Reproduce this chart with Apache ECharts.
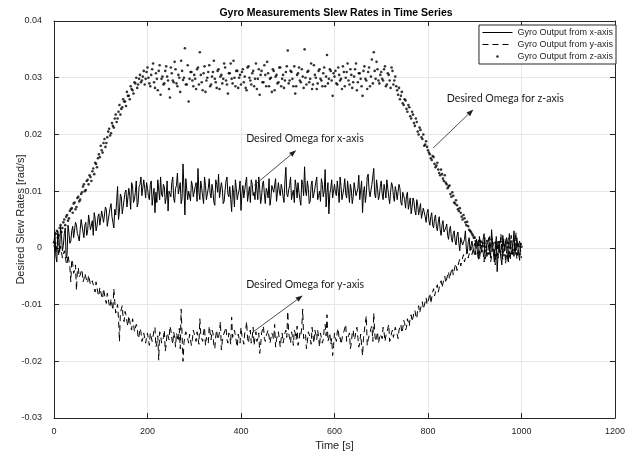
<!DOCTYPE html>
<html>
<head>
<meta charset="utf-8">
<script src="https://cdn.jsdelivr.net/npm/echarts@6/dist/echarts.min.js"></script>
<style>
html,body{margin:0;padding:0;background:#fff;}
#chart{width:628px;height:456px;}
</style>
</head>
<body>
<div id="chart"></div>
<script>
// Sample times: set A at 0,4,8,...,1000 s ; set B at 2,6,10,...,998 s
const tStartA = 0, tStartB = 2, tStep = 4;

// Gyro output, x-axis [rad/s]
const xOmegaA = [
  0.0010,-0.0015,0.0030,-0.0008,0.0022,0.0004,0.0035,-0.0012,0.0026,0.0012,0.0038,0.0015,0.0040,0.0020,0.0032,0.0048,0.0018,0.0045,0.0030,0.0055,0.0035,0.0022,0.0052,0.0038,0.0060,
  0.0042,0.0062,0.0048,0.0068,0.0040,0.0070,0.0055,0.0035,0.0058,0.0108,0.0065,0.0090,0.0062,0.0098,0.0072,0.0105,0.0068,0.0110,0.0085,0.0118,0.0080,0.0112,0.0092,0.0120,0.0088,
  0.0105,0.0085,0.0118,0.0092,0.0062,0.0080,0.0102,0.0125,0.0090,0.0108,0.0088,0.0065,0.0100,0.0115,0.0087,0.0105,0.0132,0.0095,0.0078,0.0148,0.0058,0.0120,0.0100,0.0083,0.0110,
  0.0092,0.0115,0.0140,0.0085,0.0105,0.0078,0.0110,0.0095,0.0122,0.0088,0.0100,0.0075,0.0112,0.0130,0.0090,0.0105,0.0082,0.0118,0.0095,0.0108,0.0064,0.0098,0.0120,0.0085,0.0102,
  0.0066,0.0110,0.0090,0.0125,0.0095,0.0080,0.0112,0.0098,0.0120,0.0085,0.0105,0.0090,0.0118,0.0078,0.0100,0.0122,0.0088,0.0108,0.0095,0.0082,0.0115,0.0092,0.0105,0.0080,0.0142,
  0.0090,0.0110,0.0085,0.0102,0.0120,0.0088,0.0098,0.0075,0.0112,0.0143,0.0092,0.0105,0.0082,0.0118,0.0095,0.0108,0.0085,0.0100,0.0122,0.0090,0.0138,0.0098,0.0060,0.0105,0.0088,
  0.0112,0.0092,0.0100,0.0125,0.0085,0.0105,0.0095,0.0118,0.0080,0.0102,0.0090,0.0115,0.0098,0.0128,0.0086,0.0062,0.0108,0.0095,0.0130,0.0090,0.0112,0.0140,0.0088,0.0105,0.0092,
  0.0118,0.0085,0.0102,0.0120,0.0090,0.0098,0.0110,0.0082,0.0100,0.0088,0.0105,0.0075,0.0092,0.0070,0.0098,0.0078,0.0060,0.0088,0.0065,0.0085,0.0058,0.0078,0.0050,0.0072,0.0045,
  0.0068,0.0040,0.0062,0.0035,0.0058,0.0030,0.0055,0.0022,0.0048,0.0025,0.0042,0.0015,0.0038,0.0010,0.0030,0.0005,0.0028,-0.0005,0.0020,0.0002,0.0030,-0.0010,0.0018,-0.0008,0.0012,
  -0.0012,0.0015,-0.0020,0.0008,-0.0005,0.0025,-0.0015,0.0010,-0.0008,0.0032,-0.0010,0.0005,-0.0042,0.0012,-0.0018,0.0022,-0.0006,0.0018,-0.0025,0.0008,-0.0012,0.0030,-0.0015,0.0020,-0.0022,0.0005
];
const xOmegaB = [
  0.0028,-0.0025,0.0015,0.0038,-0.0005,0.0025,-0.0018,0.0040,0.0008,0.0030,0.0018,0.0045,0.0025,0.0012,0.0050,0.0028,0.0040,0.0022,0.0058,0.0032,0.0048,0.0062,0.0030,0.0055,0.0040,
  0.0065,0.0045,0.0072,0.0038,0.0060,0.0078,0.0045,0.0068,0.0082,0.0050,0.0095,0.0060,0.0085,0.0102,0.0070,0.0092,0.0115,0.0080,0.0098,0.0072,0.0108,0.0125,0.0090,0.0105,0.0115,
  0.0092,0.0112,0.0075,0.0105,0.0098,0.0120,0.0085,0.0095,0.0112,0.0078,0.0118,0.0100,0.0090,0.0125,0.0080,0.0110,0.0095,0.0115,0.0088,0.0105,0.0122,0.0085,0.0098,0.0118,0.0090,
  0.0108,0.0082,0.0098,0.0118,0.0090,0.0125,0.0085,0.0105,0.0095,0.0112,0.0080,0.0120,0.0098,0.0088,0.0115,0.0078,0.0102,0.0125,0.0090,0.0085,0.0110,0.0072,0.0105,0.0095,0.0118,
  0.0095,0.0088,0.0115,0.0082,0.0108,0.0120,0.0092,0.0085,0.0102,0.0125,0.0078,0.0112,0.0095,0.0105,0.0088,0.0075,0.0110,0.0098,0.0122,0.0085,0.0100,0.0112,0.0090,0.0118,0.0095,
  0.0102,0.0125,0.0095,0.0080,0.0108,0.0115,0.0085,0.0120,0.0092,0.0100,0.0118,0.0078,0.0110,0.0088,0.0105,0.0125,0.0092,0.0082,0.0112,0.0100,0.0072,0.0115,0.0095,0.0120,0.0085,
  0.0098,0.0118,0.0080,0.0108,0.0095,0.0122,0.0088,0.0100,0.0112,0.0078,0.0115,0.0092,0.0105,0.0085,0.0118,0.0098,0.0080,0.0125,0.0102,0.0088,0.0110,0.0095,0.0120,0.0085,0.0108,
  0.0095,0.0112,0.0088,0.0105,0.0078,0.0115,0.0092,0.0108,0.0085,0.0112,0.0080,0.0098,0.0085,0.0092,0.0068,0.0088,0.0072,0.0082,0.0058,0.0075,0.0068,0.0052,0.0070,0.0055,0.0062,
  0.0048,0.0055,0.0040,0.0052,0.0038,0.0045,0.0032,0.0040,0.0028,0.0035,0.0022,0.0032,0.0018,0.0025,0.0012,0.0022,0.0008,0.0018,0.0005,0.0015,-0.0002,0.0010,-0.0005,0.0012,-0.0008,
  0.0010,-0.0012,0.0020,-0.0008,0.0015,-0.0020,0.0005,0.0018,-0.0015,0.0008,-0.0025,0.0015,-0.0008,0.0010,-0.0030,0.0005,0.0012,-0.0018,0.0025,-0.0005,0.0008,-0.0012,0.0018,-0.0010,0.0008
];

// Gyro output, y-axis [rad/s]
const yOmegaA = [
  0.0005,-0.0010,0.0012,-0.0015,0.0002,-0.0020,-0.0008,-0.0030,-0.0015,-0.0060,-0.0028,-0.0040,-0.0075,-0.0035,-0.0048,-0.0038,-0.0055,-0.0042,-0.0062,-0.0050,-0.0068,-0.0055,-0.0078,-0.0062,-0.0085,
  -0.0070,-0.0090,-0.0075,-0.0098,-0.0082,-0.0105,-0.0088,-0.0072,-0.0115,-0.0100,-0.0165,-0.0108,-0.0125,-0.0112,-0.0130,-0.0120,-0.0140,-0.0125,-0.0148,-0.0135,-0.0160,-0.0142,-0.0165,-0.0150,-0.0168,
  -0.0150,-0.0172,-0.0148,-0.0162,-0.0140,-0.0168,-0.0198,-0.0152,-0.0165,-0.0145,-0.0170,-0.0155,-0.0138,-0.0160,-0.0148,-0.0175,-0.0152,-0.0142,-0.0108,-0.0200,-0.0155,-0.0145,-0.0168,-0.0150,-0.0162,
  -0.0142,-0.0165,-0.0150,-0.0125,-0.0160,-0.0148,-0.0172,-0.0155,-0.0138,-0.0162,-0.0150,-0.0178,-0.0145,-0.0158,-0.0130,-0.0165,-0.0152,-0.0140,-0.0168,-0.0155,-0.0122,-0.0160,-0.0148,-0.0175,-0.0152,
  -0.0140,-0.0162,-0.0150,-0.0130,-0.0168,-0.0145,-0.0158,-0.0172,-0.0148,-0.0160,-0.0186,-0.0150,-0.0138,-0.0165,-0.0152,-0.0142,-0.0170,-0.0155,-0.0135,-0.0162,-0.0148,-0.0175,-0.0150,-0.0160,-0.0145,
  -0.0112,-0.0160,-0.0148,-0.0172,-0.0150,-0.0138,-0.0165,-0.0155,-0.0108,-0.0162,-0.0178,-0.0148,-0.0158,-0.0140,-0.0168,-0.0152,-0.0145,-0.0175,-0.0150,-0.0162,-0.0135,-0.0118,-0.0158,-0.0170,-0.0190,
  -0.0150,-0.0165,-0.0142,-0.0158,-0.0172,-0.0148,-0.0135,-0.0162,-0.0150,-0.0168,-0.0145,-0.0158,-0.0140,-0.0175,-0.0152,-0.0190,-0.0145,-0.0120,-0.0162,-0.0150,-0.0138,-0.0115,-0.0165,-0.0148,-0.0170,
  -0.0152,-0.0140,-0.0165,-0.0150,-0.0135,-0.0160,-0.0145,-0.0155,-0.0138,-0.0160,-0.0140,-0.0150,-0.0128,-0.0145,-0.0125,-0.0138,-0.0118,-0.0132,-0.0110,-0.0125,-0.0102,-0.0118,-0.0095,-0.0110,-0.0088,
  -0.0100,-0.0080,-0.0095,-0.0072,-0.0088,-0.0065,-0.0080,-0.0058,-0.0072,-0.0050,-0.0065,-0.0042,-0.0058,-0.0035,-0.0050,-0.0028,-0.0042,-0.0020,-0.0035,-0.0012,-0.0028,-0.0005,-0.0020,0.0002,-0.0012,
  0.0008,-0.0010,0.0015,-0.0018,0.0005,-0.0025,0.0012,-0.0008,0.0020,-0.0015,0.0002,-0.0030,0.0010,-0.0012,0.0025,-0.0020,0.0005,-0.0010,0.0018,-0.0022,0.0008,-0.0015,0.0028,-0.0008,0.0012,-0.0018
];
const yOmegaB = [
  -0.0005,0.0008,-0.0012,0.0003,-0.0018,-0.0005,-0.0025,-0.0012,-0.0035,-0.0020,-0.0045,-0.0030,-0.0040,-0.0052,-0.0042,-0.0060,-0.0045,-0.0058,-0.0048,-0.0065,-0.0058,-0.0072,-0.0060,-0.0080,-0.0070,
  -0.0085,-0.0072,-0.0092,-0.0080,-0.0100,-0.0090,-0.0110,-0.0095,-0.0108,-0.0125,-0.0115,-0.0102,-0.0130,-0.0118,-0.0138,-0.0128,-0.0145,-0.0132,-0.0150,-0.0140,-0.0155,-0.0148,-0.0160,-0.0152,-0.0158,
  -0.0162,-0.0150,-0.0165,-0.0145,-0.0175,-0.0155,-0.0148,-0.0168,-0.0158,-0.0182,-0.0150,-0.0162,-0.0145,-0.0170,-0.0158,-0.0150,-0.0165,-0.0178,-0.0155,-0.0168,-0.0148,-0.0160,-0.0152,-0.0172,-0.0145,
  -0.0158,-0.0148,-0.0170,-0.0152,-0.0165,-0.0140,-0.0158,-0.0168,-0.0150,-0.0145,-0.0172,-0.0155,-0.0162,-0.0148,-0.0180,-0.0155,-0.0145,-0.0162,-0.0150,-0.0170,-0.0158,-0.0145,-0.0165,-0.0152,-0.0168,
  -0.0155,-0.0170,-0.0145,-0.0160,-0.0152,-0.0168,-0.0140,-0.0158,-0.0165,-0.0150,-0.0172,-0.0148,-0.0160,-0.0155,-0.0145,-0.0168,-0.0150,-0.0162,-0.0175,-0.0152,-0.0145,-0.0160,-0.0168,-0.0150,-0.0158,
  -0.0150,-0.0168,-0.0155,-0.0145,-0.0162,-0.0172,-0.0150,-0.0140,-0.0160,-0.0152,-0.0165,-0.0148,-0.0170,-0.0155,-0.0145,-0.0162,-0.0158,-0.0150,-0.0168,-0.0142,-0.0155,-0.0165,-0.0150,-0.0160,-0.0172,
  -0.0158,-0.0148,-0.0162,-0.0170,-0.0152,-0.0145,-0.0165,-0.0155,-0.0178,-0.0150,-0.0162,-0.0145,-0.0158,-0.0168,-0.0150,-0.0160,-0.0148,-0.0172,-0.0155,-0.0142,-0.0165,-0.0150,-0.0158,-0.0168,-0.0152,
  -0.0160,-0.0148,-0.0155,-0.0142,-0.0165,-0.0150,-0.0158,-0.0140,-0.0152,-0.0145,-0.0135,-0.0142,-0.0132,-0.0140,-0.0128,-0.0122,-0.0130,-0.0115,-0.0120,-0.0108,-0.0115,-0.0100,-0.0108,-0.0095,-0.0100,
  -0.0088,-0.0098,-0.0078,-0.0085,-0.0070,-0.0078,-0.0062,-0.0070,-0.0055,-0.0062,-0.0048,-0.0055,-0.0040,-0.0048,-0.0032,-0.0040,-0.0025,-0.0032,-0.0018,-0.0025,-0.0010,-0.0018,-0.0004,-0.0012,0.0002,
  -0.0012,0.0010,-0.0020,0.0005,-0.0008,0.0018,-0.0015,0.0008,-0.0025,0.0012,-0.0005,0.0020,-0.0018,0.0003,-0.0010,0.0015,-0.0028,0.0008,-0.0012,0.0022,-0.0006,0.0010,-0.0020,0.0005,-0.0008
];

// Gyro output, z-axis [rad/s]
const zOmegaA = [
  0.0010,0.0025,0.0018,0.0035,0.0028,0.0045,0.0040,0.0058,0.0052,0.0068,0.0062,0.0080,0.0072,0.0090,0.0085,0.0098,0.0112,0.0102,0.0120,0.0128,0.0118,0.0140,0.0150,0.0142,0.0165,
  0.0180,0.0168,0.0192,0.0185,0.0205,0.0198,0.0220,0.0212,0.0235,0.0228,0.0252,0.0245,0.0262,0.0258,0.0275,0.0268,0.0285,0.0278,0.0292,0.0300,0.0288,0.0305,0.0295,0.0312,0.0298,
  0.0318,0.0290,0.0305,0.0325,0.0282,0.0298,0.0312,0.0270,0.0302,0.0290,0.0320,0.0295,0.0265,0.0308,0.0292,0.0315,0.0285,0.0300,0.0330,0.0296,0.0352,0.0288,0.0258,0.0310,0.0295,
  0.0305,0.0280,0.0318,0.0345,0.0292,0.0308,0.0275,0.0300,0.0322,0.0288,0.0310,0.0298,0.0282,0.0315,0.0302,0.0290,0.0325,0.0295,0.0272,0.0308,0.0298,0.0330,0.0285,0.0312,0.0300,
  0.0288,0.0315,0.0302,0.0278,0.0320,0.0295,0.0308,0.0285,0.0325,0.0298,0.0270,0.0312,0.0292,0.0305,0.0328,0.0285,0.0300,0.0315,0.0278,0.0305,0.0292,0.0318,0.0298,0.0282,0.0310,
  0.0348,0.0295,0.0310,0.0285,0.0272,0.0305,0.0318,0.0292,0.0302,0.0350,0.0288,0.0312,0.0298,0.0280,0.0322,0.0300,0.0290,0.0315,0.0295,0.0308,0.0285,0.0340,0.0298,0.0312,0.0268,
  0.0302,0.0290,0.0318,0.0295,0.0280,0.0310,0.0300,0.0325,0.0288,0.0305,0.0292,0.0315,0.0278,0.0308,0.0298,0.0268,0.0320,0.0295,0.0310,0.0285,0.0332,0.0345,0.0298,0.0315,0.0290,
  0.0310,0.0295,0.0320,0.0288,0.0305,0.0282,0.0312,0.0295,0.0285,0.0270,0.0262,0.0275,0.0252,0.0260,0.0240,0.0248,0.0228,0.0235,0.0215,0.0222,0.0200,0.0208,0.0192,0.0180,0.0188,
  0.0172,0.0165,0.0155,0.0160,0.0142,0.0150,0.0132,0.0138,0.0122,0.0128,0.0112,0.0108,0.0095,0.0098,0.0080,0.0084,0.0068,0.0070,0.0055,0.0058,0.0045,0.0046,0.0032,0.0028,0.0022,
  0.0018,0.0010,0.0005,0.0012,-0.0005,0.0008,0.0002,-0.0010,0.0006,0.0015,-0.0004,0.0009,-0.0012,0.0003,0.0011,-0.0007,0.0004,-0.0015,0.0008,0.0000,-0.0009,0.0013,-0.0003,0.0006,-0.0011,0.0002
];
const zOmegaB = [
  0.0008,0.0030,0.0022,0.0040,0.0035,0.0050,0.0055,0.0048,0.0065,0.0070,0.0078,0.0068,0.0088,0.0082,0.0095,0.0108,0.0100,0.0118,0.0112,0.0125,0.0135,0.0130,0.0148,0.0158,0.0160,
  0.0172,0.0185,0.0178,0.0195,0.0210,0.0202,0.0215,0.0228,0.0222,0.0240,0.0235,0.0248,0.0258,0.0250,0.0268,0.0262,0.0280,0.0272,0.0290,0.0282,0.0298,0.0292,0.0302,0.0288,0.0310,
  0.0300,0.0285,0.0315,0.0292,0.0308,0.0278,0.0322,0.0298,0.0288,0.0312,0.0302,0.0280,0.0318,0.0295,0.0328,0.0290,0.0305,0.0275,0.0312,0.0300,0.0288,0.0322,0.0298,0.0310,0.0285,
  0.0298,0.0315,0.0288,0.0305,0.0278,0.0320,0.0295,0.0310,0.0285,0.0302,0.0330,0.0292,0.0312,0.0280,0.0305,0.0298,0.0318,0.0288,0.0308,0.0325,0.0290,0.0300,0.0312,0.0282,0.0305,
  0.0310,0.0292,0.0282,0.0318,0.0300,0.0288,0.0312,0.0298,0.0280,0.0315,0.0305,0.0292,0.0322,0.0285,0.0308,0.0298,0.0275,0.0312,0.0302,0.0290,0.0318,0.0285,0.0305,0.0295,0.0320,
  0.0290,0.0312,0.0298,0.0320,0.0285,0.0308,0.0295,0.0315,0.0282,0.0300,0.0310,0.0292,0.0325,0.0288,0.0305,0.0280,0.0312,0.0298,0.0285,0.0318,0.0302,0.0290,0.0315,0.0295,0.0308,
  0.0312,0.0288,0.0305,0.0298,0.0320,0.0285,0.0310,0.0295,0.0315,0.0282,0.0302,0.0325,0.0292,0.0308,0.0285,0.0312,0.0298,0.0280,0.0318,0.0302,0.0290,0.0312,0.0328,0.0295,0.0305,
  0.0298,0.0315,0.0285,0.0308,0.0295,0.0318,0.0288,0.0302,0.0278,0.0282,0.0268,0.0255,0.0262,0.0245,0.0252,0.0232,0.0240,0.0220,0.0228,0.0205,0.0212,0.0195,0.0200,0.0182,0.0178,
  0.0168,0.0158,0.0162,0.0148,0.0145,0.0138,0.0128,0.0130,0.0118,0.0115,0.0105,0.0110,0.0090,0.0092,0.0078,0.0075,0.0065,0.0062,0.0050,0.0052,0.0040,0.0038,0.0030,0.0025,0.0018,
  0.0012,0.0005,-0.0008,0.0010,0.0003,-0.0005,0.0012,-0.0010,0.0004,0.0008,-0.0012,0.0002,0.0010,-0.0006,0.0005,-0.0013,0.0009,0.0001,-0.0008,0.0011,-0.0004,0.0006,-0.0010,0.0003,0.0007
];

const seriesNames = ['Gyro Output from x-axis', 'Gyro Output from y-axis', 'Gyro Output from z-axis'];
const xTicks = {min: 0, max: 1200, interval: 200};
const yTicks = {min: -0.03, max: 0.04, interval: 0.01};

// Annotations (text anchor and arrow in data coordinates: [time, rate])
const notes = [
  {text: 'Desired Omega for x-axis', at: [411, 0.0193], from: [428, 0.0110], to: [518, 0.0172]},
  {text: 'Desired Omega for y-axis', at: [411, -0.0064], from: [428, -0.0147], to: [532, -0.0084]},
  {text: 'Desired Omega for z-axis', at: [840, 0.0264], from: [811, 0.0176], to: [897, 0.0244]}
];

// merge the two interleaved sample sets into [time, value] pairs ordered by time
function samples(a, b) {
  const pts = a.map((v, i) => [tStartA + i * tStep, v])
    .concat(b.map((v, i) => [tStartB + i * tStep, v]));
  return pts.sort((p, q) => p[0] - q[0]);
}

const FONT = 'Liberation Sans, Arial, Helvetica, sans-serif';
const AX = '#262626';

const chart = echarts.init(document.getElementById('chart'), null, {renderer: 'canvas'});

const baseX = {
  type: 'value', min: xTicks.min, max: xTicks.max, interval: xTicks.interval,
  axisLine: {onZero: false, lineStyle: {color: AX, width: 1}},
  axisTick: {inside: true, length: 5, lineStyle: {color: AX, width: 1}}
};
const baseY = {
  type: 'value', min: yTicks.min, max: yTicks.max, interval: yTicks.interval,
  axisLine: {onZero: false, lineStyle: {color: AX, width: 1}},
  axisTick: {inside: true, length: 5, lineStyle: {color: AX, width: 1}}
};

const option = {
  animation: false,
  backgroundColor: '#fff',
  title: {
    text: 'Gyro Measurements Slew Rates in Time Series',
    left: 336, top: 8, padding: 0, textAlign: 'center',
    textStyle: {fontFamily: FONT, fontSize: 10.5, fontWeight: 'bold', color: '#000'}
  },
  grid: {left: 54, right: 9.5, top: 21, bottom: 37, containLabel: false},
  legend: {
    orient: 'vertical', right: 12, top: 25,
    data: [
      {name: seriesNames[0], itemStyle: {opacity: 0}},
      {name: seriesNames[1], itemStyle: {opacity: 0}},
      {name: seriesNames[2]}
    ],
    itemWidth: 30, itemHeight: 2.6, itemGap: 0,
    padding: [1.5, 3, 1.5, 3],
    lineStyle: {width: 1},
    backgroundColor: '#fff', borderColor: AX, borderWidth: 1, borderRadius: 0,
    textStyle: {fontFamily: FONT, fontSize: 9, color: AX, lineHeight: 12},
    selectedMode: false
  },
  xAxis: [
    Object.assign({}, baseX, {
      position: 'bottom',
      name: 'Time [s]', nameLocation: 'middle', nameGap: 22, nameMoveOverlap: false,
      nameTextStyle: {fontFamily: FONT, fontSize: 11, color: AX},
      axisLabel: {fontFamily: FONT, fontSize: 9, color: AX, margin: 9,
        formatter: v => String(v)},
      splitLine: {show: true, lineStyle: {color: '#e6e6e6', width: 1}}
    }),
    Object.assign({}, baseX, {
      position: 'top', axisLabel: {show: false}, splitLine: {show: false}
    })
  ],
  yAxis: [
    Object.assign({}, baseY, {
      position: 'left',
      name: 'Desired Slew Rates [rad/s]', nameLocation: 'middle', nameGap: 28, nameMoveOverlap: false,
      nameTextStyle: {fontFamily: FONT, fontSize: 11, color: AX},
      axisLabel: {fontFamily: FONT, fontSize: 9, color: AX, margin: 12,
        formatter: v => String(parseFloat(v.toFixed(2)))},
      splitLine: {show: true, lineStyle: {color: '#e6e6e6', width: 1}}
    }),
    Object.assign({}, baseY, {
      position: 'right', axisLabel: {show: false}, splitLine: {show: false}
    })
  ],
  series: [
    {
      name: seriesNames[0], type: 'line', xAxisIndex: 0, yAxisIndex: 0,
      data: samples(xOmegaA, xOmegaB), symbol: 'none', smooth: false,
      color: '#000', lineStyle: {color: '#000', width: 1}
    },
    {
      name: seriesNames[1], type: 'line', xAxisIndex: 0, yAxisIndex: 0,
      data: samples(yOmegaA, yOmegaB), symbol: 'none', smooth: false,
      color: '#000', lineStyle: {color: '#000', width: 1, type: [6, 4]}
    },
    {
      name: seriesNames[2], type: 'scatter', xAxisIndex: 0, yAxisIndex: 0,
      data: samples(zOmegaA, zOmegaB), symbol: 'circle', symbolSize: 2.6,
      color: '#000', itemStyle: {color: '#000'}
    }
  ]
};

chart.setOption(option);

// annotation text and arrows placed through the chart's own scales
const g = [];
const toPx = p => chart.convertToPixel({xAxisIndex: 0, yAxisIndex: 0}, p);
notes.forEach(n => {
  const p = toPx(n.at);
  g.push({
    type: 'text', x: p[0], y: p[1], z: 100,
    style: {text: n.text, font: '10.6px Lato, "Open Sans", sans-serif', fill: '#1a1a1a',
      textVerticalAlign: 'middle', verticalAlign: 'middle', textAlign: 'left', align: 'left'}
  });
  const a = toPx(n.from), b = toPx(n.to);
  const ang = Math.atan2(b[1] - a[1], b[0] - a[0]);
  const L = 7, W = 2.6;
  const bx = b[0] - L * Math.cos(ang), by = b[1] - L * Math.sin(ang);
  g.push({
    type: 'line', z: 100,
    shape: {x1: a[0], y1: a[1], x2: bx, y2: by},
    style: {stroke: '#222', lineWidth: 0.8}
  });
  g.push({
    type: 'polygon', z: 100,
    shape: {points: [
      [b[0], b[1]],
      [bx - W * Math.sin(ang), by + W * Math.cos(ang)],
      [bx + W * Math.sin(ang), by - W * Math.cos(ang)]
    ]},
    style: {fill: '#222'}
  });
});
chart.setOption({graphic: g});
</script>
</body>
</html>
